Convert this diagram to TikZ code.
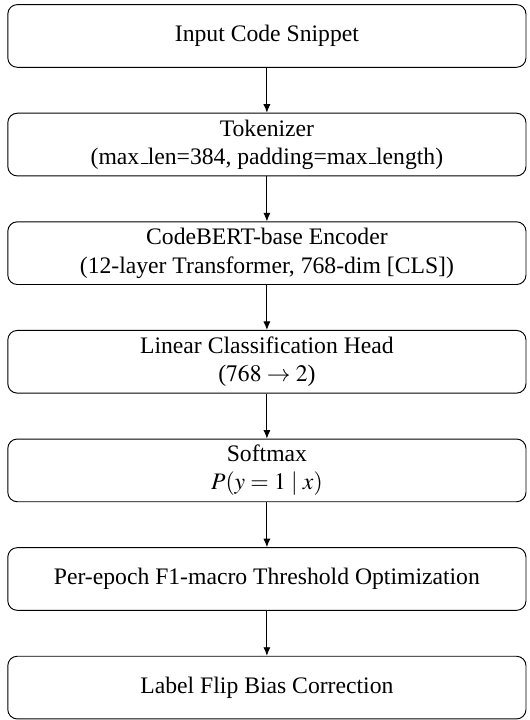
\documentclass[tikz,border=0pt]{standalone}
\usepackage{mathptmx}
\usepackage{fontspec}
\setmainfont{Liberation Serif}
\usepackage{tikz}
\usetikzlibrary{positioning,arrows.meta}
\newcommand{\lowbar}{\leavevmode\kern.06em\vbox{\hrule width.3em}}

\begin{document}
\begin{tikzpicture}[font=\normalsize,
  stage/.style={draw,rounded corners=4pt,minimum width=219pt,minimum height=26.5pt,align=center,inner sep=2pt},
  flow/.style={-{Latex[length=3.6pt,width=3pt]}}]
\useasboundingbox (0,0) rectangle (223.6pt,-304.3pt);
% pipeline
\node[stage] (input) at (112.8pt,-15.2pt) {Input Code Snippet};
\node[stage,below=19pt of input] (tok) {Tokenizer\\(max\lowbar len=384, padding=max\lowbar length)};
\node[stage,below=19pt of tok] (enc) {CodeBERT-base Encoder\\(12-layer Transformer, 768-dim [CLS])};
\node[stage,below=19pt of enc] (head) {Linear Classification Head\\($768 \rightarrow 2$)};
\node[stage,below=19pt of head] (soft) {Softmax\\$P(y=1 \mid x)$};
\node[stage,below=19pt of soft] (thr) {Per-epoch F1-macro Threshold Optimization};
\node[stage,below=19pt of thr] (flip) {Label Flip Bias Correction};
\draw[flow] (input) -- (tok);
\draw[flow] (tok) -- (enc);
\draw[flow] (enc) -- (head);
\draw[flow] (head) -- (soft);
\draw[flow] (soft) -- (thr);
\draw[flow] (thr) -- (flip);
\end{tikzpicture}
\end{document}
